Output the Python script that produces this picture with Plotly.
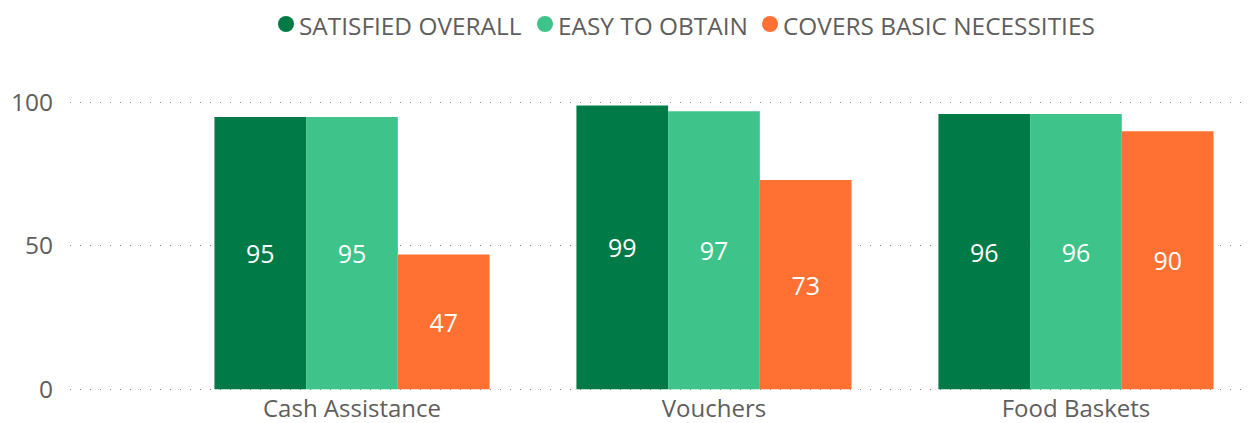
import plotly.graph_objects as go

categories = ["Cash Assistance", "Vouchers", "Food Baskets"]
series_names = ["SATISFIED OVERALL", "EASY TO OBTAIN", "COVERS BASIC NECESSITIES"]
satisfied_overall = [95, 99, 96]
easy_to_obtain = [95, 97, 96]
covers_basic_necessities = [47, 73, 90]
series_values = [satisfied_overall, easy_to_obtain, covers_basic_necessities]
colors = ["#007A47", "#3EC48A", "#FF7033"]
y_ticks = [0, 50, 100]

FONT = "Open Sans"
GREY = "#605E5C"

W, H = 1249, 423
M_L, M_R, M_T, M_B = 70, 0, 74, 31
PLOT_W = W - M_L - M_R
PLOT_H = H - M_T - M_B


def px_x(px):
    """Pixel column -> plot-area fraction."""
    return (px - M_L) / PLOT_W


def px_y(py):
    """Pixel row (from top) -> plot-area fraction."""
    return 1 + (M_T - py) / PLOT_H


fig = go.Figure()
for name, vals, col in zip(series_names, series_values, colors):
    fig.add_trace(go.Bar(
        x=list(range(len(categories))), y=vals, name=name,
        marker=dict(color=col, line=dict(width=0)),
        text=[str(v) for v in vals], textposition="inside",
        insidetextanchor="middle",
        textfont=dict(color="white", size=25, family=FONT),
        showlegend=False,
    ))

# custom legend row: dot + label, laid out left to right
legend_dot_px = [286, 545, 770]
legend_row_px = 24
for name, col, dot_px in zip(series_names, colors, legend_dot_px):
    fig.add_shape(
        type="circle", xref="paper", yref="paper",
        xsizemode="pixel", ysizemode="pixel",
        xanchor=px_x(dot_px), yanchor=px_y(legend_row_px),
        x0=-8, x1=8, y0=-8, y1=8,
        fillcolor=col, line=dict(width=0),
    )
    fig.add_annotation(
        text=name, xref="paper", yref="paper",
        x=px_x(dot_px + 11), y=px_y(legend_row_px + 1.5),
        xanchor="left", yanchor="middle", showarrow=False,
        font=dict(size=24.4, color=GREY, family=FONT),
    )

fig.update_layout(
    width=W, height=H,
    margin=dict(l=M_L, r=M_R, t=M_T, b=M_B),
    plot_bgcolor="white", paper_bgcolor="white",
    barmode="group", bargap=0.24, bargroupgap=0,
    font=dict(family=FONT, color=GREY),
    showlegend=False,
    xaxis=dict(
        range=[-0.779, 2.478], tickvals=list(range(len(categories))),
        ticktext=categories, showgrid=False, zeroline=False,
        tickfont=dict(size=24, color=GREY, family=FONT), ticks="",
        showline=False, ticklabelstandoff=0, automargin=False,
    ),
    yaxis=dict(
        range=[-1, 110], tickvals=y_ticks, showgrid=True,
        gridcolor="#8a8a8a", griddash="1px,9px", gridwidth=1.3,
        zeroline=False, ticks="", ticklabelstandoff=16, automargin=False,
        tickfont=dict(size=24.5, color=GREY, family=FONT),
    ),
)

fig.write_html("out.html")
